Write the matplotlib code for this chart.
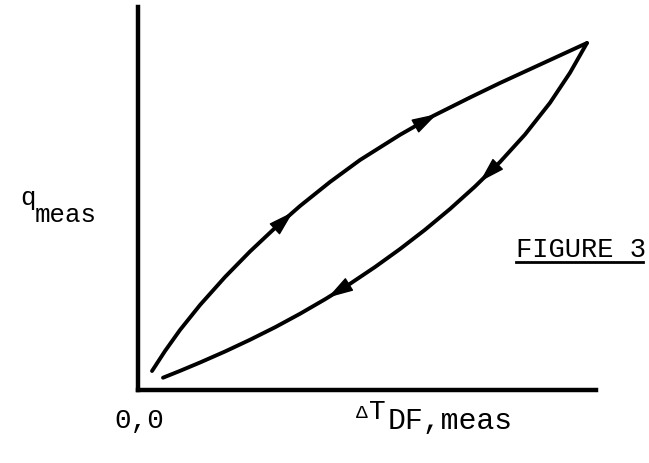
import matplotlib.pyplot as plt
from matplotlib.lines import Line2D

# heating branch (lower-left to upper-right), in arbitrary units 0-100
up_x = [3.06, 5.90, 9.17, 13.54, 19.00, 24.45, 29.91, 35.37, 41.92, 48.47,
        57.21, 64.41, 72.49, 79.04, 87.77, 98.03]
up_y = [4.96, 10.18, 15.67, 22.19, 29.50, 36.16, 42.30, 48.04, 54.31, 60.05,
        66.63, 71.54, 76.37, 80.16, 84.96, 90.60]

# cooling branch (upper-right back to lower-left)
down_x = [98.03, 94.32, 89.96, 84.50, 79.04, 73.58, 68.12, 62.66, 57.21, 51.75,
          46.29, 40.83, 35.37, 29.91, 24.45, 19.00, 13.54, 9.17, 5.46]
down_y = [90.60, 82.82, 74.99, 66.71, 59.53, 53.13, 47.26, 41.83, 36.81, 32.11,
          27.73, 23.68, 19.90, 16.37, 13.11, 10.05, 7.18, 4.99, 3.21]

# direction arrows: (base, tip) pairs along each branch
arrows = [
    ((29.48, 41.62), (33.84, 46.48)),
    ((60.92, 69.16), (65.28, 72.06)),
    ((78.38, 58.75), (74.67, 54.41)),
    ((46.29, 27.73), (41.48, 24.15)),
]

W, H = 649, 464
MONO = "Liberation Mono"

fig = plt.figure(figsize=(W / 100, H / 100), dpi=100)
ax = fig.add_axes([138 / W, (H - 391) / H, (596 - 138) / W, (391 - 8) / H])
ax.set_xlim(0, 100)
ax.set_ylim(0, 100)
for side in ("top", "right"):
    ax.spines[side].set_visible(False)
for side in ("left", "bottom"):
    ax.spines[side].set_linewidth(3.2)
ax.set_xticks([])
ax.set_yticks([])

for xs, ys in ((up_x, up_y), (down_x, down_y)):
    ax.plot(xs, ys, color="k", lw=2.8, solid_capstyle="round", solid_joinstyle="round")

for base, tip in arrows:
    ax.annotate(
        "", xy=tip, xytext=base,
        arrowprops=dict(arrowstyle="-|>,head_length=0.8,head_width=0.24",
                        color="k", lw=1, shrinkA=0, shrinkB=0, mutation_scale=20),
    )


def label(x, y, s, size=18.5):
    fig.text(x / W, 1 - y / H, s, fontsize=size, family=MONO, va="baseline", ha="left")


label(20, 205, "q")
label(35, 222, "meas")
label(114, 428, "0,0", size=20)
label(356, 418, "\u0394", size=14)
label(369, 419, "T", size=20)
label(388, 429, "DF,meas", size=21.5)
label(516, 257, "FIGURE 3", size=19.5)
fig.add_artist(Line2D([516 / W, 643 / W], [1 - 263 / H, 1 - 263 / H], color="k", lw=2))

fig.savefig("out.png", dpi=100)
